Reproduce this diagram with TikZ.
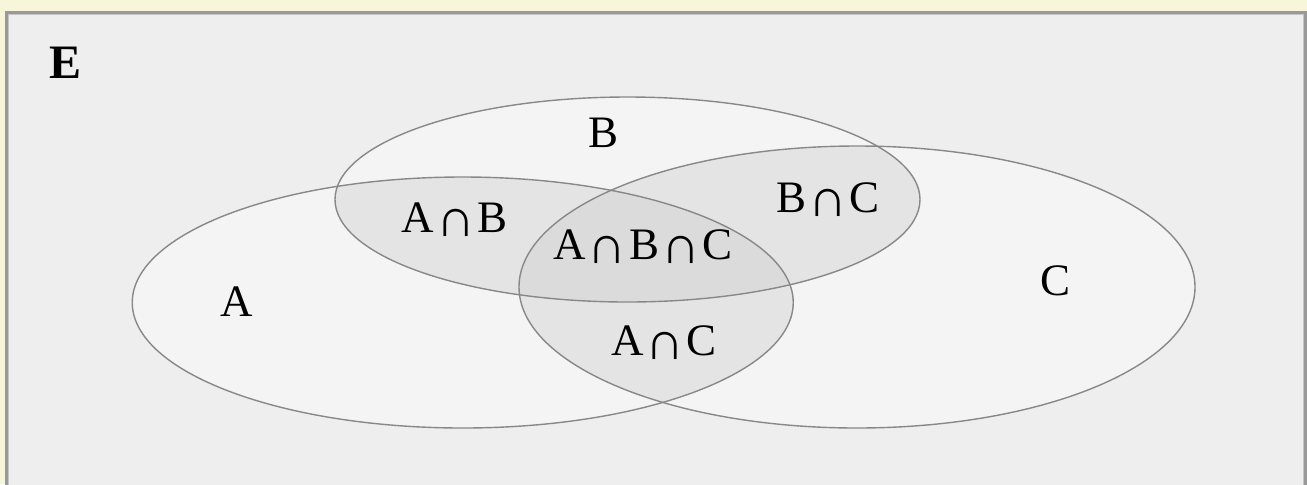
\documentclass[tikz,border=0pt]{standalone}
\usepackage{fontspec}
\setmainfont{Liberation Serif}
\usepackage{graphicx}
\usepackage{tikz}

\definecolor{paper}{RGB}{248,246,218}
\definecolor{panel}{RGB}{238,238,238}
\definecolor{setfill}{RGB}{244,244,244}
\definecolor{twofill}{RGB}{228,228,228}
\definecolor{threefill}{RGB}{219,219,219}
\definecolor{setline}{RGB}{136,136,136}
\definecolor{frameline}{RGB}{153,153,153}
\definecolor{frameinner}{RGB}{196,196,196}

\newcommand\isect{\hspace{0.05em}\raisebox{-0.11em}{\scalebox{1.2}{∩}}\hspace{0.05em}}

\begin{document}
\begin{tikzpicture}[x=0.5pt, y=-0.5pt,
	setlabel/.style={font=\fontsize{22.5}{27}\selectfont, inner sep=0pt},
	outline/.style={draw=setline, line width=0.7pt}]
\clip (0, 0) rectangle (1307, 484);
\fill[paper] (0, 0) rectangle (1307, 484);

\fill[panel] (6.5, 12.5) rectangle (1305.5, 500);
\draw[frameline, line width=1.5pt] (6.5, 12.5) rectangle (1305.5, 500);
\draw[frameinner, line width=0.5pt] (8.5, 14.5) rectangle (1303.5, 500);

\def\setA{(462.75, 302.5) ellipse [x radius=330.5, y radius=125.5]}
\def\setB{(627.5, 199.5) ellipse [x radius=292.5, y radius=102.5]}
\def\setC{(857, 287) ellipse [x radius=338, y radius=141]}

\fill[setfill] \setA;
\fill[setfill] \setB;
\fill[setfill] \setC;

\begin{scope}
	\clip \setA;
	\fill[twofill] \setB;
	\fill[twofill] \setC;
\end{scope}
\begin{scope}
	\clip \setB;
	\fill[twofill] \setC;
\end{scope}
\begin{scope}
	\clip \setA;
	\clip \setB;
	\fill[threefill] \setC;
\end{scope}

\draw[outline] \setA;
\draw[outline] \setB;
\draw[outline] \setC;

\node[font=\fontsize{24}{28}\selectfont\bfseries, inner sep=0pt] (univ) at (66, 63) {E};

\node[setlabel] (lA) at (237, 302) {A};
\node[setlabel] (lB) at (604, 133) {B};
\node[setlabel] (lC) at (1055, 281) {C};
\node[setlabel, anchor=base] (lAB) at (455, 232) {A\isect B};
\node[setlabel, anchor=base] (lBC) at (828, 212) {B\isect C};
\node[setlabel, anchor=base] (lAC) at (664, 355) {A\isect C};
\node[setlabel, anchor=base] (lABC) at (643, 259) {A\isect B\isect C};
\end{tikzpicture}
\end{document}
